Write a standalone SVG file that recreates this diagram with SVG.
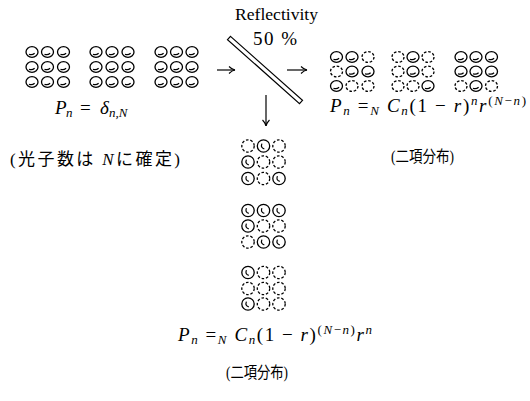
<svg xmlns="http://www.w3.org/2000/svg" width="530" height="401" viewBox="0 0 530 401">
<style>
.s{fill:none;stroke:#000;stroke-width:1.3}
.d{fill:none;stroke:#000;stroke-width:1.3;stroke-dasharray:2.6 1.8}
.m{fill:none;stroke:#000;stroke-width:1.2}
.t{font-family:"Liberation Serif","DejaVu Serif",serif;fill:#000}
.i{font-style:italic}
.j{font-family:"Liberation Serif","Noto Sans CJK JP",serif;fill:#000}
.ar{fill:none;stroke:#000;stroke-width:1.2}
</style>
<defs>
<g id="S"><ellipse class="s" cx="0" cy="0" rx="6" ry="5.4"/><path class="m" d="M-3,2.2 Q0,3.6 2.6,1.2"/></g>
<g id="D"><ellipse class="d" cx="0" cy="0" rx="6" ry="5.4"/></g>
<g id="SB"><circle class="s" cx="0" cy="0" r="6.2"/><path class="m" d="M-1.6,-2.4 Q-3.2,1.8 0.8,2.8"/></g>
<g id="DB"><circle class="d" cx="0" cy="0" r="6.2"/></g>
<marker id="ah" markerWidth="10" markerHeight="10" refX="8" refY="5" orient="auto" markerUnits="userSpaceOnUse">
<path d="M2,1.5 Q5,4.5 8,5 Q5,5.5 2,8.5" fill="none" stroke="#000" stroke-width="1.1"/>
</marker>
</defs>

<g id="input-group-1">
<use href="#S" x="32" y="52"/><use href="#S" x="47.5" y="52"/><use href="#S" x="63.5" y="52"/>
<use href="#S" x="32" y="67"/><use href="#S" x="47.5" y="67"/><use href="#S" x="63.5" y="67"/>
<use href="#S" x="32" y="82"/><use href="#S" x="47.5" y="82"/><use href="#S" x="63.5" y="82"/>
</g>
<g id="input-group-2">
<use href="#S" x="96" y="52"/><use href="#S" x="112" y="52"/><use href="#S" x="128" y="52"/>
<use href="#S" x="96" y="67"/><use href="#S" x="112" y="67"/><use href="#S" x="128" y="67"/>
<use href="#S" x="96" y="82"/><use href="#S" x="112" y="82"/><use href="#S" x="128" y="82"/>
</g>
<g id="input-group-3">
<use href="#S" x="161" y="52"/><use href="#S" x="176.5" y="52"/><use href="#S" x="192" y="52"/>
<use href="#S" x="161" y="67"/><use href="#S" x="176.5" y="67"/><use href="#S" x="192" y="67"/>
<use href="#S" x="161" y="82"/><use href="#S" x="176.5" y="82"/><use href="#S" x="192" y="82"/>
</g>
<g id="input-label">
<text class="t" y="114" font-size="19"><tspan class="i" x="55">P</tspan><tspan class="i" font-size="13" x="66" y="117">n</tspan><tspan x="80" y="114">=</tspan><tspan class="i" x="100">δ</tspan><tspan class="i" font-size="13" x="109" y="117">n,N</tspan></text>
<text class="j" x="10" y="165" font-size="17" textLength="170" lengthAdjust="spacing">(光子数は <tspan class="t i">N</tspan>に確定)</text>
</g>

<g id="beam-splitter">
<polygon points="230.5,36.4 302.5,100.4 299.5,103.6 227.5,39.6" fill="#fff" stroke="#000" stroke-width="1.2"/>
<text class="t" x="235" y="20" font-size="16" textLength="83" lengthAdjust="spacingAndGlyphs">Reflectivity</text>
<text class="t" x="253" y="45" font-size="19" textLength="44" lengthAdjust="spacing">50 %</text>
</g>

<g id="transmitted-group-1">
<use href="#S" x="336.5" y="57"/><use href="#S" x="352" y="57"/><use href="#D" x="368" y="57"/>
<use href="#D" x="336.5" y="71.5"/><use href="#S" x="352" y="71.5"/><use href="#S" x="368" y="71.5"/>
<use href="#S" x="336.5" y="86"/><use href="#D" x="352" y="86"/><use href="#D" x="368" y="86"/>
</g>
<g id="transmitted-group-2">
<use href="#D" x="398" y="57"/><use href="#S" x="413" y="57"/><use href="#D" x="428" y="57"/>
<use href="#D" x="398" y="71.5"/><use href="#S" x="413" y="71.5"/><use href="#D" x="428" y="71.5"/>
<use href="#D" x="398" y="86"/><use href="#D" x="413" y="86"/><use href="#S" x="428" y="86"/>
</g>
<g id="transmitted-group-3">
<use href="#S" x="461" y="57"/><use href="#S" x="476" y="57"/><use href="#S" x="491.5" y="57"/>
<use href="#S" x="461" y="71.5"/><use href="#S" x="476" y="71.5"/><use href="#S" x="491.5" y="71.5"/>
<use href="#D" x="461" y="86"/><use href="#S" x="476" y="86"/><use href="#D" x="491.5" y="86"/>
</g>
<g id="transmitted-label">
<text class="t" x="330" y="112" font-size="19" textLength="196" lengthAdjust="spacing"><tspan class="i">P</tspan><tspan class="i" font-size="13" dy="3">n</tspan><tspan dy="-3"> =</tspan><tspan class="i" font-size="13" dy="3">N</tspan><tspan class="i" dy="-3"> C</tspan><tspan class="i" font-size="13" dy="3">n</tspan><tspan dy="-3">(1 − </tspan><tspan class="i">r</tspan><tspan>)</tspan><tspan class="i" font-size="13" dy="-7">n</tspan><tspan class="i" dy="7">r</tspan><tspan font-size="13" dy="-7">(<tspan class="i">N</tspan>−<tspan class="i">n</tspan>)</tspan></text>
<text class="j" x="391" y="162" font-size="16" textLength="63" lengthAdjust="spacingAndGlyphs">(二項分布)</text>
</g>

<g id="reflected-group-1">
<use href="#DB" x="248" y="146"/><use href="#SB" x="263.5" y="146"/><use href="#DB" x="279" y="146"/>
<use href="#SB" x="248" y="162"/><use href="#DB" x="263.5" y="162"/><use href="#DB" x="279" y="162"/>
<use href="#SB" x="248" y="178.5"/><use href="#DB" x="263.5" y="178.5"/><use href="#SB" x="279" y="178.5"/>
</g>
<g id="reflected-group-2">
<use href="#SB" x="248" y="210.5"/><use href="#SB" x="263.5" y="210.5"/><use href="#SB" x="279" y="210.5"/>
<use href="#SB" x="248" y="226"/><use href="#DB" x="263.5" y="226"/><use href="#DB" x="279" y="226"/>
<use href="#DB" x="248" y="242"/><use href="#SB" x="263.5" y="242"/><use href="#SB" x="279" y="242"/>
</g>
<g id="reflected-group-3">
<use href="#SB" x="248" y="272.5"/><use href="#DB" x="263.5" y="272.5"/><use href="#DB" x="279" y="272.5"/>
<use href="#DB" x="248" y="288.5"/><use href="#DB" x="263.5" y="288.5"/><use href="#DB" x="279" y="288.5"/>
<use href="#SB" x="248" y="304"/><use href="#DB" x="263.5" y="304"/><use href="#DB" x="279" y="304"/>
</g>
<g id="reflected-label">
<text class="t" x="178" y="341" font-size="19" textLength="194" lengthAdjust="spacing"><tspan class="i">P</tspan><tspan class="i" font-size="13" dy="3">n</tspan><tspan dy="-3"> =</tspan><tspan class="i" font-size="13" dy="3">N</tspan><tspan class="i" dy="-3"> C</tspan><tspan class="i" font-size="13" dy="3">n</tspan><tspan dy="-3">(1 − </tspan><tspan class="i">r</tspan><tspan>)</tspan><tspan font-size="13" dy="-7">(<tspan class="i">N</tspan>−<tspan class="i">n</tspan>)</tspan><tspan class="i" dy="7">r</tspan><tspan class="i" font-size="13" dy="-7">n</tspan></text>
<text class="j" x="226" y="378" font-size="16" textLength="62" lengthAdjust="spacingAndGlyphs">(二項分布)</text>
</g>

<g id="connectors">
<line class="ar" x1="217" y1="70" x2="235" y2="70" marker-end="url(#ah)"/>
<line class="ar" x1="287" y1="70" x2="307" y2="70" marker-end="url(#ah)"/>
<line class="ar" x1="266" y1="95" x2="266" y2="126" marker-end="url(#ah)"/>
</g>
</svg>
